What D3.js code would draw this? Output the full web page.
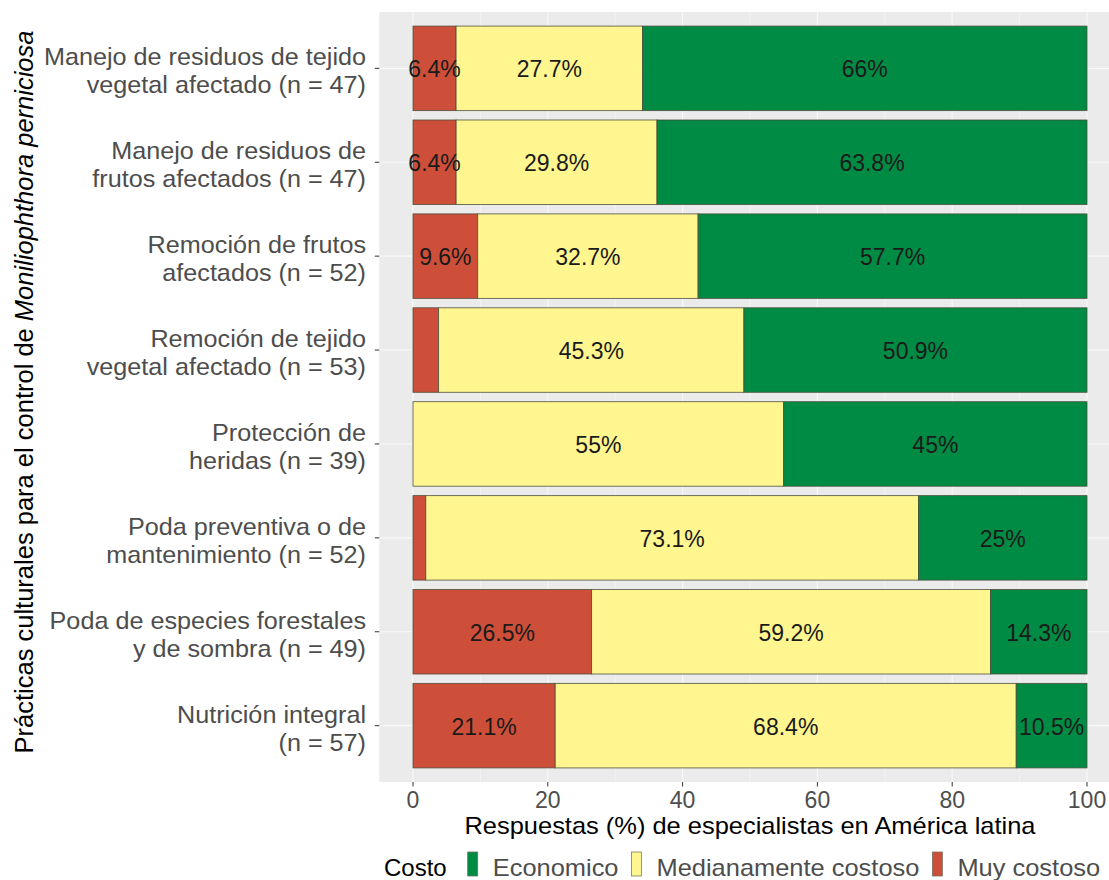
<!DOCTYPE html>
<html>
<head>
<meta charset="utf-8">
<script src="https://cdn.jsdelivr.net/npm/d3@7"></script>
<style>
  html, body { margin: 0; padding: 0; background: #ffffff; }
  svg { display: block; font-family: "Liberation Sans", Arial, Helvetica, sans-serif; }
</style>
</head>
<body>
<svg id="chart" width="1109" height="880"></svg>
<script>
// ---------------- data ----------------
const categories = [
  "Manejo de residuos de tejido\nvegetal afectado (n = 47)",
  "Manejo de residuos de\nfrutos afectados (n = 47)",
  "Remoción de frutos\nafectados (n = 52)",
  "Remoción de tejido\nvegetal afectado (n = 53)",
  "Protección de\nheridas (n = 39)",
  "Poda preventiva o de\nmantenimiento (n = 52)",
  "Poda de especies forestales\ny de sombra (n = 49)",
  "Nutrición integral\n(n = 57)"
];
const muyCostoso   = [6.4, 6.4, 9.6, 3.8, 0, 1.9, 26.5, 21.1];
const medianamente = [27.7, 29.8, 32.7, 45.3, 55, 73.1, 59.2, 68.4];
const economico    = [66, 63.8, 57.7, 50.9, 45, 25, 14.3, 10.5];
const seriesKeys   = ["Muy costoso", "Medianamente costoso", "Economico"];
const legendOrder  = ["Economico", "Medianamente costoso", "Muy costoso"];
const seriesColors = ["#CD4F39", "#FFF68F", "#008B45"];
const xTicks       = [0, 20, 40, 60, 80, 100];
const xMinorTicks  = [10, 30, 50, 70, 90];
const xTitle = "Respuestas (%) de especialistas en América latina";
const yTitlePlain = "Prácticas culturales para el control de ";
const yTitleItalic = "Moniliophthora perniciosa";
const legendTitle = "Costo";

// ---------------- build table ----------------
const seriesValues = [muyCostoso, medianamente, economico];
const rows = categories.map((c, i) => {
  const r = { cat: c };
  seriesKeys.forEach((k, j) => { r[k] = seriesValues[j][i]; });
  return r;
});
const stacked = d3.stack().keys(seriesKeys).offset(d3.stackOffsetExpand)(rows);
const color = d3.scaleOrdinal().domain(seriesKeys).range(seriesColors);

// ---------------- layout ----------------
const svg = d3.select("#chart");
const x = d3.scaleLinear().domain([0, 100]).range([413, 1087]);
const panelTop = 12, panelBottom = 782;
const y = d3.scalePoint().domain(categories).range([panelTop, panelBottom]).padding(0.6);
const bandH = y.step() * 0.9;
const panelLeft = x(-5), panelRight = x(105);

const GRAY = "#4D4D4D";

function stretchText(sel, px, py, f) {
  sel.attr("transform", `translate(${px},${py}) scale(${f},1)`);
  return sel;
}

// panel
svg.append("rect")
  .attr("x", panelLeft).attr("y", panelTop)
  .attr("width", panelRight - panelLeft).attr("height", panelBottom - panelTop)
  .attr("fill", "#EBEBEB");

// grid
const grid = svg.append("g");
grid.selectAll(".minor").data(xMinorTicks).join("line")
  .attr("x1", d => x(d)).attr("x2", d => x(d))
  .attr("y1", panelTop).attr("y2", panelBottom)
  .attr("stroke", "#ffffff").attr("stroke-width", 0.6).attr("stroke-opacity", 0.7);
grid.selectAll(".major").data(xTicks).join("line")
  .attr("x1", d => x(d)).attr("x2", d => x(d))
  .attr("y1", panelTop).attr("y2", panelBottom)
  .attr("stroke", "#ffffff").attr("stroke-width", 1.1).attr("stroke-opacity", 0.7);
grid.selectAll(".hmajor").data(categories).join("line")
  .attr("x1", panelLeft).attr("x2", panelRight)
  .attr("y1", d => y(d)).attr("y2", d => y(d))
  .attr("stroke", "#ffffff").attr("stroke-width", 1.1).attr("stroke-opacity", 0.7);

// bars
const barG = svg.append("g");
stacked.forEach(layer => {
  barG.append("g")
    .selectAll("rect").data(layer).join("rect")
    .attr("x", d => x(d[0] * 100))
    .attr("width", d => Math.max(0, x(d[1] * 100) - x(d[0] * 100)))
    .attr("y", d => y(d.data.cat) - bandH / 2)
    .attr("height", bandH)
    .attr("fill", color(layer.key))
    .attr("stroke", d => (d[1] - d[0]) > 0 ? "#4a4a3a" : "none")
    .attr("stroke-width", 0.9)
    .attr("stroke-opacity", 0.85);
});

// bar labels
const lblG = svg.append("g");
stacked.forEach(layer => {
  layer.forEach(d => {
    const v = d.data[layer.key];
    if (v < 5) return;
    const cx = x((d[0] + d[1]) / 2 * 100);
    const t = lblG.append("text")
      .attr("text-anchor", "middle")
      .attr("dominant-baseline", "central")
      .attr("font-size", 23)
      .attr("fill", "#1A1A1A")
      .text(v + "%");
    stretchText(t, cx, y(d.data.cat) + 1, 1.0);
  });
});

// y axis ticks + labels
const yAx = svg.append("g");
categories.forEach(c => {
  const cy = y(c);
  yAx.append("line")
    .attr("x1", panelLeft - 4.5).attr("x2", panelLeft)
    .attr("y1", cy).attr("y2", cy)
    .attr("stroke", "#333333").attr("stroke-width", 1);
  const lines = c.split("\n");
  lines.forEach((ln, i) => {
    const t = yAx.append("text")
      .attr("text-anchor", "end")
      .attr("font-size", 24)
      .attr("fill", GRAY)
      .text(ln);
    stretchText(t, 366, cy - 3 + i * 28, 1.05);
  });
});

// x axis ticks + labels
const xAx = svg.append("g");
xTicks.forEach(v => {
  xAx.append("line")
    .attr("x1", x(v)).attr("x2", x(v))
    .attr("y1", panelBottom).attr("y2", panelBottom + 4.5)
    .attr("stroke", "#333333").attr("stroke-width", 1);
  const t = xAx.append("text")
    .attr("text-anchor", "middle")
    .attr("font-size", 23)
    .attr("fill", GRAY)
    .text(v);
  stretchText(t, x(v), 808, 1.0);
});

// x title
stretchText(svg.append("text")
  .attr("text-anchor", "middle")
  .attr("font-size", 24)
  .attr("fill", "#000000")
  .text(xTitle), (panelLeft + panelRight) / 2, 834, 1.06);

// y title
const yt = svg.append("text")
  .attr("text-anchor", "middle")
  .attr("font-size", 25.5)
  .attr("fill", "#000000")
  .attr("transform", `translate(33,392) rotate(-90)`);
yt.append("tspan").text(yTitlePlain);
yt.append("tspan").attr("font-style", "italic").text(yTitleItalic);

// legend
const leg = svg.append("g");
const legBase = 876;
let lx = 384;
const lt = leg.append("text")
  .attr("font-size", 24).attr("fill", "#000000").text(legendTitle);
stretchText(lt, lx, legBase, 1.0);
lx += lt.node().getComputedTextLength() + 21;
legendOrder.forEach(k => {
  leg.append("rect")
    .attr("x", lx).attr("y", 852).attr("width", 10).attr("height", 24)
    .attr("fill", color(k)).attr("stroke", "#6b6b5a").attr("stroke-width", 0.7);
  lx += 10 + 15;
  const t = leg.append("text")
    .attr("font-size", 24).attr("fill", GRAY).text(k);
  stretchText(t, lx, legBase, 1.06);
  lx += t.node().getComputedTextLength() * 1.06 + 13;
});
</script>
</body>
</html>
